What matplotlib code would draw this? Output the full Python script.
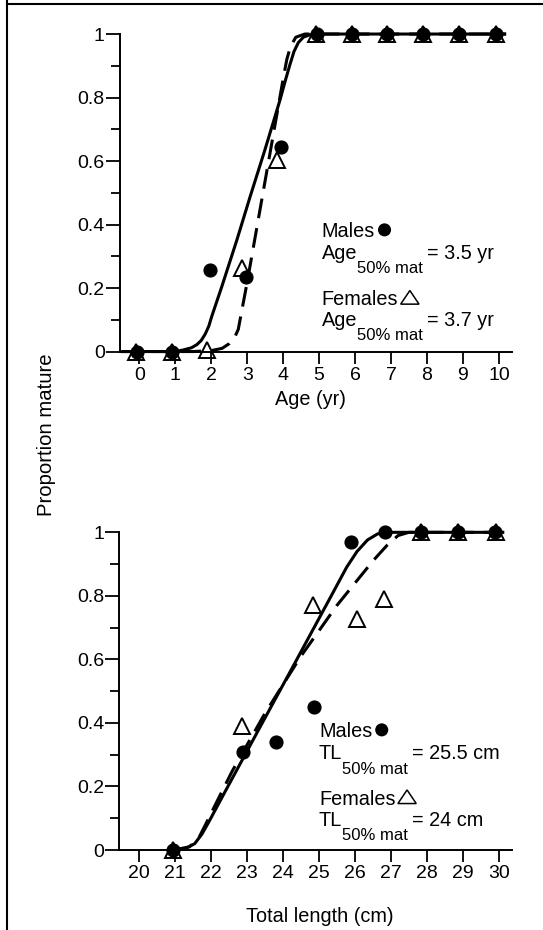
import matplotlib
matplotlib.use('Agg')
import matplotlib.pyplot as plt
from matplotlib.lines import Line2D
from matplotlib.patches import Circle, Polygon
from matplotlib.offsetbox import DrawingArea, AnnotationBbox
from matplotlib.ticker import MultipleLocator

plt.rcParams['font.family'] = ['Liberation Sans', 'DejaVu Sans']

male_age_x = [-0.08, 0.92, 1.95, 2.96, 3.94, 4.93, 5.92, 6.9, 7.9, 8.9, 9.92]
male_age_p = [0, 0, 0.257, 0.234, 0.645, 1, 1, 1, 1, 1, 1]
female_age_x = [-0.1, 0.9, 1.89, 2.85, 3.84, 4.9, 5.9, 6.88, 7.9, 8.9, 9.92]
female_age_p = [0, 0, 0.005, 0.262, 0.603, 1, 1, 1, 1, 1, 1]

# Age panel - fitted curves
male_age_fit_x = [-0.5, 1.0, 1.22, 1.45, 1.6, 1.72, 1.83, 1.93, 2.01, 2.29, 2.71, 3.08,
                  3.49, 3.91, 4.05, 4.19, 4.3, 4.42, 4.56, 4.75, 4.93, 10.2]
male_age_fit_p = [0, 0, 0.005, 0.012, 0.022, 0.035, 0.055, 0.08, 0.11, 0.204, 0.351, 0.488,
                  0.635, 0.792, 0.85, 0.905, 0.945, 0.973, 0.99, 0.998, 1.0, 1.0]
female_age_fit_x = [-0.5, 1.5, 2.0, 2.3, 2.5, 2.65, 2.75, 2.85, 3.0, 3.25, 3.5, 3.75,
                    4.0, 4.1, 4.2, 4.35, 4.6, 10.2]
female_age_fit_p = [0, 0, 0.003, 0.01, 0.025, 0.045, 0.07, 0.13, 0.22, 0.38, 0.54, 0.70,
                    0.86, 0.92, 0.96, 0.99, 1.0, 1.0]

# Length panel - observed proportions
male_tl_x = [20.96, 22.88, 23.82, 24.86, 25.89, 26.83, 27.84, 28.85, 29.9]
male_tl_p = [0.0, 0.31, 0.341, 0.451, 0.969, 1.0, 1.0, 1.0, 1.0]
female_tl_x = [20.96, 22.86, 24.83, 26.06, 26.81, 27.84, 28.85, 29.92]
female_tl_p = [0.0, 0.391, 0.771, 0.726, 0.79, 1.0, 1.0, 1.0]

# Length panel - fitted curves
male_tl_fit_x = [20.96, 21.3, 21.55, 21.75, 21.95, 22.4, 23.36, 24.33, 25.29, 25.77,
                 26.06, 26.35, 26.63, 26.92, 30.15]
male_tl_fit_p = [0, 0.005, 0.02, 0.05, 0.09, 0.185, 0.386, 0.588, 0.789, 0.89,
                 0.94, 0.976, 0.995, 1.0, 1.0]
female_tl_fit_x = [20.96, 21.4, 21.65, 21.85, 22.2, 22.6, 23.0, 23.5, 24.0, 24.5, 25.0,
                   25.5, 26.0, 26.5, 26.9, 27.2, 27.5, 30.15]
female_tl_fit_p = [0, 0.01, 0.035, 0.08, 0.16, 0.25, 0.33, 0.43, 0.52, 0.61, 0.69,
                   0.77, 0.84, 0.91, 0.96, 0.99, 1.0, 1.0]

age_ticks = list(range(0, 11))
tl_ticks = list(range(20, 31))
y_ticks = [0, 0.2, 0.4, 0.6, 0.8, 1.0]
y_ticklabels = ['0', '0.2', '0.4', '0.6', '0.8', '1']

FS = 14.3      # annotation / label text
TFS = 14       # tick labels
SFS = 12       # subscript
LW = 2.2


def style_axis(ax, xticks, xlim):
    ax.set_xlim(*xlim)
    ax.set_ylim(0, 1)
    for side in ['top', 'right']:
        ax.spines[side].set_visible(False)
    for side in ['left', 'bottom']:
        ax.spines[side].set_linewidth(1.4)
    ax.set_xticks(xticks)
    ax.set_xticklabels([str(t) for t in xticks])
    ax.set_yticks(y_ticks)
    ax.set_yticklabels(y_ticklabels)
    ax.yaxis.set_minor_locator(MultipleLocator(0.1))
    ax.tick_params(axis='y', which='major', length=10, width=1.3, labelsize=TFS, pad=1)
    ax.tick_params(axis='y', which='minor', length=6.5, width=1.3)
    ax.tick_params(axis='x', which='major', length=8.5, width=1.3, labelsize=TFS, pad=2.5)


def draw_panel(ax, mfx, mfp, ffx, ffp, mx, mp, fx, fp):
    ax.plot(mfx, mfp, color='black', lw=LW, solid_capstyle='butt', clip_on=False, zorder=3)
    ax.plot(ffx, ffp, color='black', lw=LW, linestyle=(0, (6.5, 3.3)),
            dash_capstyle='butt', clip_on=False, zorder=3)
    ax.plot(fx, fp, linestyle='none', marker='^', markersize=11, markerfacecolor='none',
            markeredgecolor='black', markeredgewidth=1.4, clip_on=False, zorder=4)
    ax.plot(mx, mp, linestyle='none', marker='o', markersize=9.2, color='black',
            clip_on=False, zorder=5)


def symbol_after(ax, txt, kind):
    # small legend symbol placed right after a text, sitting on its baseline
    desc = 0.212 * FS
    if kind == 'circle':
        da = DrawingArea(9.4, 9.4, 0, 0)
        da.add_artist(Circle((4.7, 4.7), 4.7, facecolor='black', edgecolor='none'))
        gap = 2.2
    else:
        da = DrawingArea(14.4, 11.0, 0, 0)
        da.add_artist(Polygon([[0.6, 0.6], [13.8, 0.6], [7.2, 10.4]], closed=True,
                              facecolor='none', edgecolor='black', lw=1.1))
        gap = 1.2
    ab = AnnotationBbox(da, xy=(1, 0), xycoords=txt, xybox=(gap, desc),
                        boxcoords='offset points', box_alignment=(0, 0),
                        frameon=False, pad=0)
    ax.add_artist(ab)


def legend_line(ax, x, y, word, kind):
    t = ax.text(x, y, word, fontsize=FS, va='baseline', ha='left')
    symbol_after(ax, t, kind)


def sub_label(ax, x, y, main, sub, rest):
    t1 = ax.text(x, y, main, fontsize=FS, va='baseline', ha='left')
    drop = 10.3
    t2 = ax.annotate(sub, xy=(1, 0), xycoords=t1,
                     xytext=(0.2, 0.212 * FS - drop - 0.212 * SFS),
                     textcoords='offset points', fontsize=SFS, va='bottom', ha='left')
    ax.annotate(rest, xy=(1, 0), xycoords=(t2, t1), xytext=(2.4, 0),
                textcoords='offset points', fontsize=FS, va='bottom', ha='left')


fig = plt.figure(figsize=(5.43, 9.30), dpi=100)
ax1 = fig.add_axes([0.221, 0.622, 0.721, 0.3414])
ax2 = fig.add_axes([0.220, 0.086, 0.722, 0.3416])

style_axis(ax1, age_ticks, (-0.54, 10.35))
style_axis(ax2, tl_ticks, (19.46, 30.35))

draw_panel(ax1, male_age_fit_x, male_age_fit_p, female_age_fit_x, female_age_fit_p,
           male_age_x, male_age_p, female_age_x, female_age_p)
draw_panel(ax2, male_tl_fit_x, male_tl_fit_p, female_tl_fit_x, female_tl_fit_p,
           male_tl_x, male_tl_p, female_tl_x, female_tl_p)

# annotations, age panel
legend_line(ax1, 5.07, 0.362, 'Males', 'circle')
sub_label(ax1, 5.07, 0.292, 'Age', '50% mat', '= 3.5 yr')
legend_line(ax1, 5.07, 0.146, 'Females', 'triangle')
sub_label(ax1, 5.07, 0.082, 'Age', '50% mat', '= 3.7 yr')

# annotations, length panel
legend_line(ax2, 25.0, 0.357, 'Males', 'circle')
sub_label(ax2, 25.0, 0.286, 'TL', '50% mat', '= 25.5 cm')
legend_line(ax2, 25.0, 0.143, 'Females', 'triangle')
sub_label(ax2, 25.0, 0.077, 'TL', '50% mat', '= 24 cm')

fig.text(0.571, 0.570, 'Age (yr)', ha='center', va='center', fontsize=FS)
fig.text(0.589, 0.014, 'Total length (cm)', ha='center', va='center', fontsize=FS)
fig.text(0.085, 0.532, 'Proportion mature', rotation=90, ha='center', va='center', fontsize=14.6)

# frame lines on the left and top edges
fig.add_artist(Line2D([0.0134, 0.0134], [0, 1], transform=fig.transFigure, color='black', lw=1.5))
fig.add_artist(Line2D([0.0134, 1.0], [0.9957, 0.9957], transform=fig.transFigure, color='black', lw=1.5))

fig.savefig('out.png', dpi=100)
